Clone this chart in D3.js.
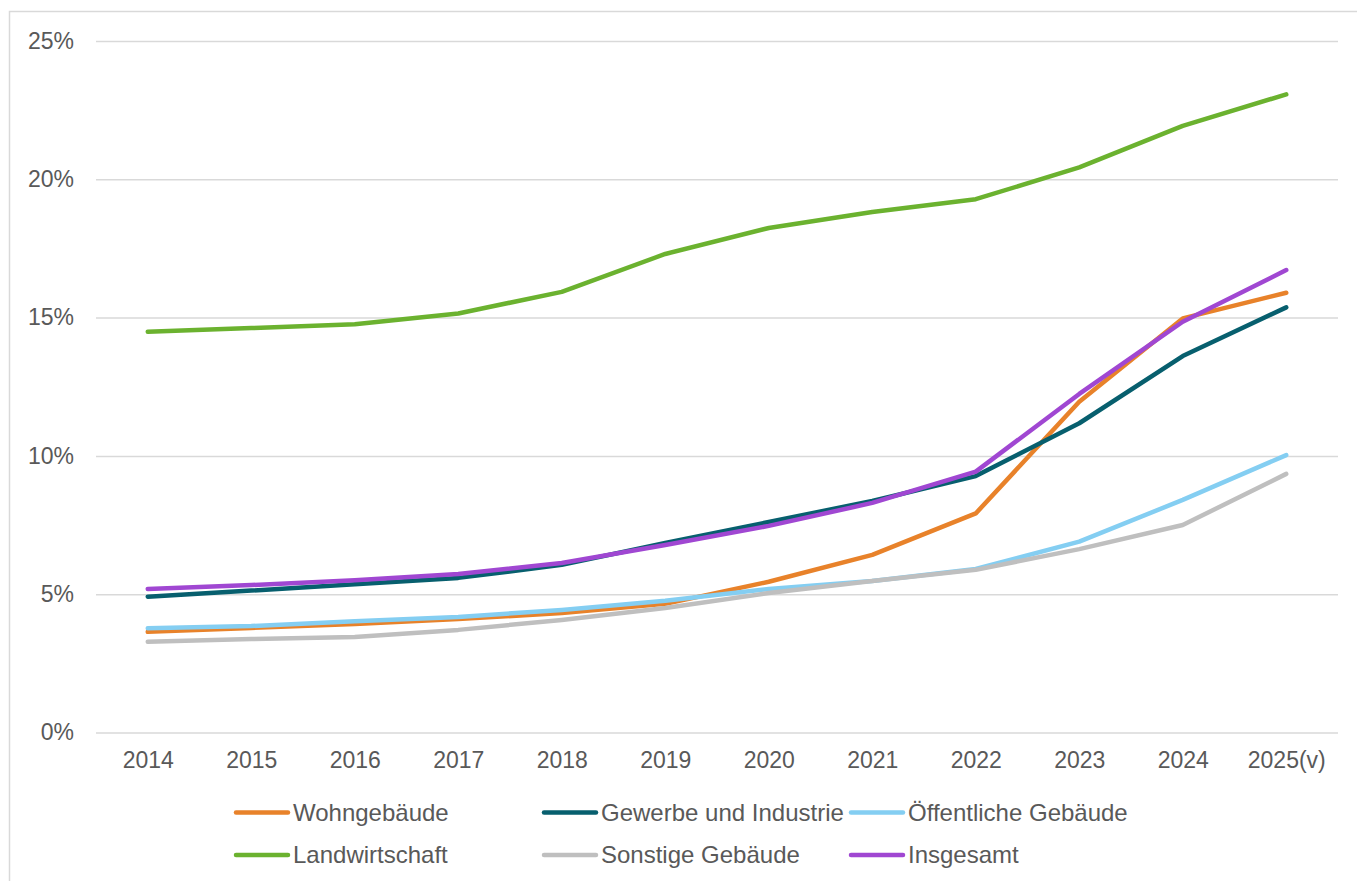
<!DOCTYPE html>
<html>
<head>
<meta charset="utf-8">
<script src="https://cdn.jsdelivr.net/npm/d3@7"></script>
<style>
  body { margin: 0; background: #fff; }
  svg { display: block; }
  text { font-family: "Liberation Sans", Arial, sans-serif; fill: #595959; }
</style>
</head>
<body>
<svg></svg>
<script>
// Anteil in Prozent je Jahr
let years = ['2014', '2015', '2016', '2017', '2018', '2019', '2020', '2021', '2022', '2023', '2024', '2025(v)']
let seriesNames = ['Wohngebäude', 'Gewerbe und Industrie', 'Öffentliche Gebäude', 'Landwirtschaft', 'Sonstige Gebäude', 'Insgesamt']
let seriesColors = ['#E8822A', '#075F6E', '#84CEF2', '#6BB22F', '#BFBFBF', '#A047D2']

let wohngebaeude = [3.64, 3.78, 3.92, 4.10, 4.32, 4.65, 5.45, 6.42, 7.92, 11.96, 14.97, 15.90]
let gewerbe = [4.91, 5.13, 5.36, 5.59, 6.06, 6.85, 7.61, 8.37, 9.27, 11.18, 13.61, 15.37]
let oeffentlich = [3.77, 3.85, 4.02, 4.18, 4.43, 4.76, 5.19, 5.48, 5.91, 6.90, 8.41, 10.03]
let landwirtschaft = [14.49, 14.62, 14.76, 15.15, 15.93, 17.30, 18.24, 18.82, 19.28, 20.43, 21.93, 23.07]
let sonstige = [3.28, 3.38, 3.45, 3.71, 4.07, 4.50, 5.04, 5.48, 5.88, 6.63, 7.50, 9.35]
let insgesamt = [5.19, 5.33, 5.50, 5.73, 6.13, 6.78, 7.47, 8.30, 9.43, 12.24, 14.85, 16.72]

let yTicks = [0, 5, 10, 15, 20, 25]

let width = 1357
let height = 881
let plotLeft = 96
let plotRight = 1338
let plotTop = 41
let plotBottom = 732.5

let svg = d3.select('svg')
   .attr('width', width)
   .attr('height', height)

// Rahmen
svg.append('rect')
   .attr('x', 9.5)
   .attr('y', 11.5)
   .attr('width', 1400)
   .attr('height', 1000)
   .attr('fill', 'none')
   .attr('stroke', '#D9D9D9')
   .attr('stroke-width', 1.5)

let xScale = d3.scalePoint()
   .domain(years)
   .range([plotLeft, plotRight])
   .padding(0.5)

let yScale = d3.scaleLinear()
   .domain([0, 25])
   .range([plotBottom, plotTop])

// Gitter + y-Achse
let yAxis = d3.axisLeft(yScale)
   .tickValues(yTicks)
   .tickSize(-(plotRight - plotLeft))
   .tickPadding(22)
   .tickFormat(d => d + '%')

let gy = svg.append('g')
   .attr('transform', 'translate(' + plotLeft + ',0)')
   .call(yAxis)
gy.select('.domain').remove()
gy.selectAll('line').attr('stroke', '#D9D9D9').attr('stroke-width', 1.5)
gy.selectAll('text')
   .attr('font-size', 23)
   .attr('fill', '#595959')
   .style('font-family', '"Liberation Sans", Arial, sans-serif')

// x-Achse
let xAxis = d3.axisBottom(xScale).tickSize(0).tickPadding(19)
let gx = svg.append('g')
   .attr('transform', 'translate(0,' + plotBottom + ')')
   .call(xAxis)
gx.select('.domain').remove()
gx.selectAll('text')
   .attr('font-size', 23)
   .attr('fill', '#595959')
   .style('font-family', '"Liberation Sans", Arial, sans-serif')

let seriesValues = [wohngebaeude, gewerbe, oeffentlich, landwirtschaft, sonstige, insgesamt]
let series = seriesNames.map((name, i) => ({ name: name, color: seriesColors[i], values: seriesValues[i] }))

let line = d3.line()
   .x((d, i) => xScale(years[i]))
   .y(d => yScale(d))

svg.selectAll('path.serie')
   .data(series)
   .enter()
   .append('path')
   .attr('class', 'serie')
   .attr('d', d => line(d.values))
   .attr('fill', 'none')
   .attr('stroke', d => d.color)
   .attr('stroke-width', 4.5)
   .attr('stroke-linecap', 'round')
   .attr('stroke-linejoin', 'round')

// Legende
let legendX = [236, 544, 851]
let legendY = [812.5, 855]

let legend = svg.selectAll('g.legend')
   .data(series)
   .enter()
   .append('g')
   .attr('class', 'legend')
   .attr('transform', (d, i) => 'translate(' + legendX[i % 3] + ',' + legendY[Math.floor(i / 3)] + ')')

legend.append('line')
   .attr('x1', 0)
   .attr('x2', 52)
   .attr('y1', 0)
   .attr('y2', 0)
   .attr('stroke', d => d.color)
   .attr('stroke-width', 4.5)
   .attr('stroke-linecap', 'round')

legend.append('text')
   .attr('x', 57)
   .attr('y', 0)
   .attr('dy', '0.35em')
   .attr('font-size', 24)
   .text(d => d.name)
</script>
</body>
</html>
